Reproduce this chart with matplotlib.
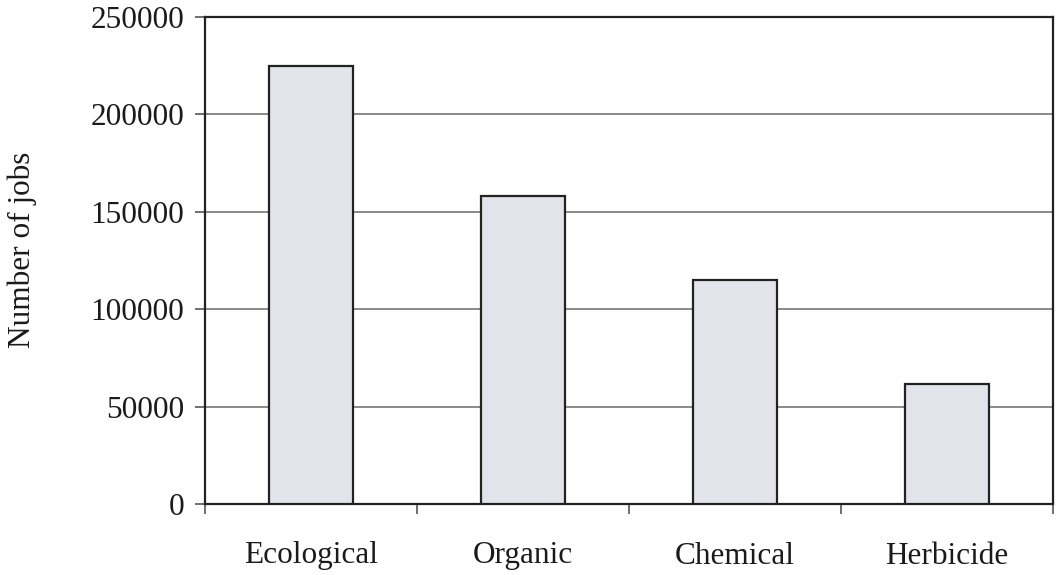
import matplotlib
matplotlib.use("Agg")
import matplotlib.pyplot as plt
import numpy as np

categories = ["Ecological", "Organic", "Chemical", "Herbicide"]
jobs = [225000, 158000, 115000, 61500]
yticks = [0, 50000, 100000, 150000, 200000, 250000]

plt.rcParams['font.family'] = ['Liberation Serif', 'DejaVu Serif']
plt.rcParams['font.size'] = 22.5

fig = plt.figure(figsize=(10.6, 5.75), dpi=100)
ax = fig.add_axes([205/1060, 1-504/575, (1053-205)/1060, (504-17)/575])

x = np.arange(len(categories))
ax.bar(x, jobs, width=0.40, color="#E1E4E8", edgecolor="#222222", linewidth=1.6, zorder=3)

ax.set_xlim(-0.5, len(categories) - 0.5)
ax.set_ylim(0, 250000)
ax.set_yticks(yticks)
ax.set_yticklabels([str(v) for v in yticks])
ax.yaxis.grid(True, color="#6a6a6a", linewidth=1.1, zorder=0)
ax.set_axisbelow(True)

ax.set_xticks(x)
ax.set_xticklabels(categories)
ax.tick_params(axis='x', which='major', length=0, pad=27, colors="#1a1a1a", labelcolor="#1a1a1a")
ax.set_xticks(np.arange(-0.5, len(categories)), minor=True)
ax.tick_params(axis='x', which='minor', length=7, width=1.2, color="#555555", direction='out')
ax.tick_params(axis='y', which='major', length=7, width=1.2, pad=8, color="#555555", labelcolor="#1a1a1a", direction='out')

for s in ax.spines.values():
    s.set_color("#222222")
    s.set_linewidth(1.6)

fig.text(22/1060, 1-250/575, "Number of jobs", rotation=90, ha='center', va='center', color="#1a1a1a")

fig.savefig("out.png", dpi=100)
